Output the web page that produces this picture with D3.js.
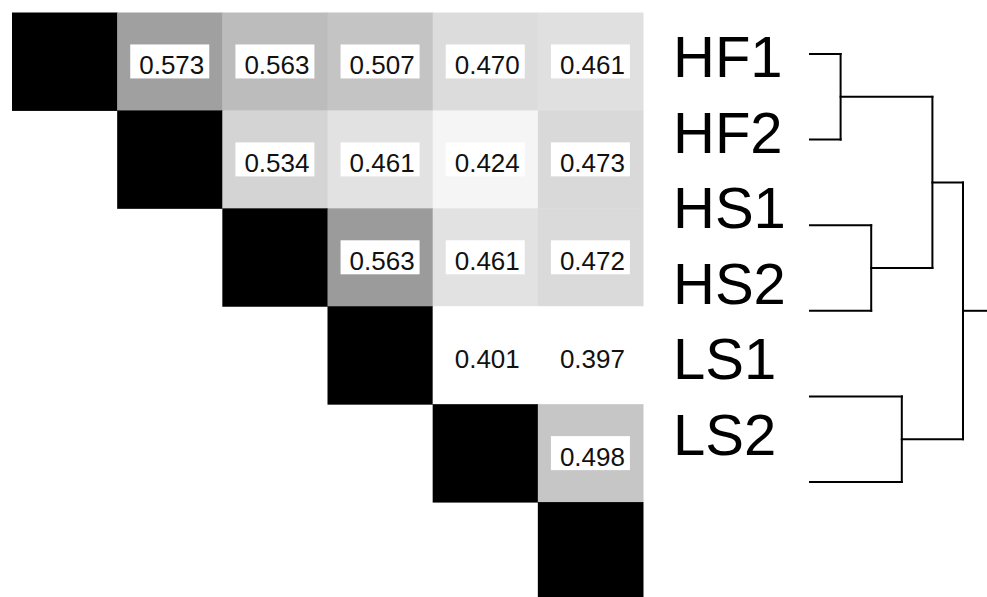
<!DOCTYPE html>
<html>
<head>
<meta charset="utf-8">
<script src="https://cdn.jsdelivr.net/npm/d3@7"></script>
<style>
  html, body { margin: 0; padding: 0; background: #fff; }
  svg { display: block; }
</style>
</head>
<body>
<svg id="chart" width="987" height="597"></svg>
<script>
// ---- data ----
const samples = ["HF1", "HF2", "HS1", "HS2", "LS1", "LS2"];
// upper-triangle values, row i holds columns i+1 .. 5
const corrRow1 = [0.573, 0.563, 0.507, 0.470, 0.461];
const corrRow2 = [0.534, 0.461, 0.424, 0.473];
const corrRow3 = [0.563, 0.461, 0.472];
const corrRow4 = [0.401, 0.397];
const corrRow5 = [0.498];
// cell shading intensity (0 = white, 1 = black)
const shadeRow1 = [0.373, 0.263, 0.231, 0.137, 0.122];
const shadeRow2 = [0.169, 0.114, 0.039, 0.149];
const shadeRow3 = [0.392, 0.114, 0.145];
const shadeRow4 = [0.0, 0.0];
const shadeRow5 = [0.224];
const diagonalShade = 1;
// dendrogram: merge heights (ranks)
const clusterTree = {
  h: 5, children: [
    { h: 4, children: [
      { h: 1, children: [{ name: "HF1", h: 0 }, { name: "HF2", h: 0 }] },
      { h: 2, children: [{ name: "HS1", h: 0 }, { name: "HS2", h: 0 }] }
    ]},
    { h: 3, children: [{ name: "LS1", h: 0 }, { name: "LS2", h: 0 }] }
  ]
};

// ---- build cells ----
const corrRows = [corrRow1, corrRow2, corrRow3, corrRow4, corrRow5];
const shadeRows = [shadeRow1, shadeRow2, shadeRow3, shadeRow4, shadeRow5];
const cells = [];
samples.forEach((s, i) => {
  cells.push({ row: s, col: s, value: null, shade: diagonalShade });
  if (i < corrRows.length) {
    corrRows[i].forEach((v, k) => {
      cells.push({ row: s, col: samples[i + 1 + k], value: v, shade: shadeRows[i][k] });
    });
  }
});

const svg = d3.select("#chart");
const font = "'Liberation Sans', Arial, Helvetica, sans-serif";

const x = d3.scaleBand().domain(samples).range([12, 643]).padding(0);
const y = d3.scaleBand().domain(samples).range([12.5, 600]).padding(0);
const fill = d3.scaleLinear().domain([0, 1]).range(["#ffffff", "#000000"]);

const g = svg.append("g");
g.selectAll("rect.cell").data(cells).join("rect")
  .attr("class", "cell")
  .attr("x", d => x(d.col))
  .attr("y", d => y(d.row))
  .attr("width", x.bandwidth() + 0.5)
  .attr("height", y.bandwidth() + 0.5)
  .attr("fill", d => fill(d.shade));

const labelled = cells.filter(d => d.value !== null);
const boxW = 79, boxH = 34;
g.selectAll("rect.box").data(labelled).join("rect")
  .attr("class", "box")
  .attr("x", d => x(d.col) + x.bandwidth() / 2 - boxW / 2)
  .attr("y", d => y(d.row) + y.bandwidth() / 2 - boxH / 2)
  .attr("width", boxW)
  .attr("height", boxH)
  .attr("fill", "#ffffff");
g.selectAll("text.val").data(labelled).join("text")
  .attr("class", "val")
  .attr("x", d => x(d.col) + x.bandwidth() / 2 + 2)
  .attr("y", d => y(d.row) + y.bandwidth() / 2 + 13)
  .attr("text-anchor", "middle")
  .attr("font-family", font)
  .attr("font-size", 26)
  .attr("fill", "#111")
  .text(d => d3.format(".3f")(d.value));

// ---- labels ----
const labelY = d3.scalePoint().domain(samples).range([77, 455]);
svg.selectAll("text.lab").data(samples).join("text")
  .attr("class", "lab")
  .attr("x", 673)
  .attr("y", d => labelY(d))
  .attr("font-family", font)
  .attr("font-size", 58)
  .attr("fill", "#000")
  .text(d => d);

// ---- dendrogram ----
const root = d3.hierarchy(clusterTree);
const leafY = d3.scalePoint().domain(samples).range([54, 482]);
const hx = d3.scaleLinear().domain([0, 5]).range([810, 963]);
root.eachAfter(n => {
  n.py = n.children ? d3.mean(n.children, c => c.py) : leafY(n.data.name);
});
const segs = [];
root.each(n => {
  if (n.children) {
    const ys = n.children.map(c => c.py);
    segs.push([hx(n.data.h), d3.min(ys), hx(n.data.h), d3.max(ys)]);
    n.children.forEach(c => segs.push([hx(c.data.h), c.py, hx(n.data.h), c.py]));
  }
});
segs.push([hx(root.data.h), root.py, 987, root.py]);
svg.append("g").selectAll("line").data(segs).join("line")
  .attr("x1", d => d[0]).attr("y1", d => d[1])
  .attr("x2", d => d[2]).attr("y2", d => d[3])
  .attr("stroke", "#000")
  .attr("stroke-width", 2)
  .attr("stroke-linecap", "square");
</script>
</body>
</html>
